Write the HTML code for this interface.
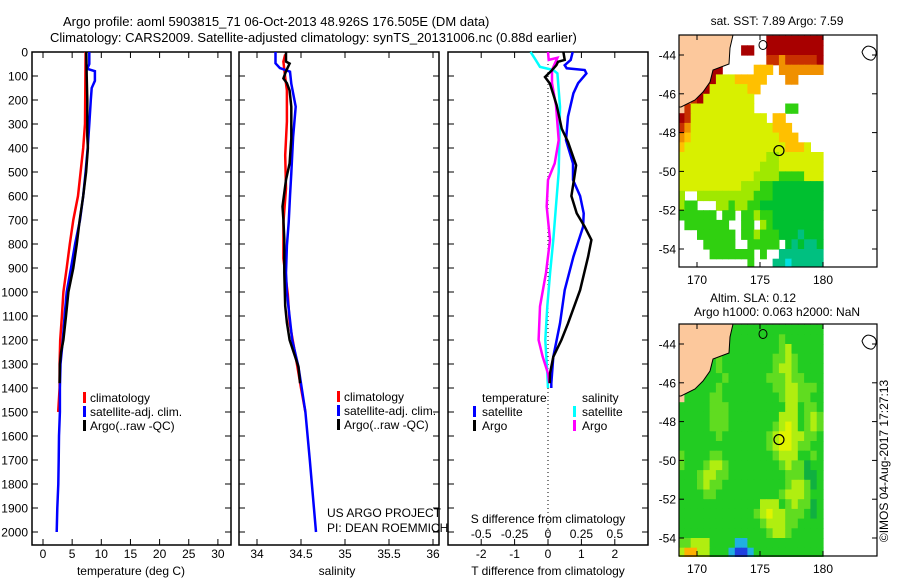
<!DOCTYPE html>
<html><head><meta charset="utf-8">
<style>
html,body{margin:0;padding:0;background:#fff;}
svg{display:block;font-family:"Liberation Sans",Arial,sans-serif;}
text{fill:#000;}
</style></head>
<body>
<svg id="fig" width="900" height="580" viewBox="0 0 900 580">
<defs>
<clipPath id="clipTop"><rect x="679" y="35" width="198" height="232"/></clipPath>
<clipPath id="clipBot"><rect x="679" y="324" width="198" height="233"/></clipPath>
</defs>
<text x="63" y="26" font-size="13">Argo profile: aoml 5903815_71 06-Oct-2013 48.926S 176.505E (DM data)</text>
<text x="50" y="42" font-size="13">Climatology: CARS2009. Satellite-adjusted climatology: synTS_20131006.nc (0.88d earlier)</text>
<g id="p1"></g>
<g id="p2"></g>
<g id="p3"></g>
<g id="m1"></g>
<g id="m2"></g>
<text x="888" y="461" font-size="12" text-anchor="middle" transform="rotate(-90 888 461)">©IMOS 04-Aug-2017 17:27:13</text>
</svg>
<script>
// ---------- data ----------
const depthTicks = [0,100,200,300,400,500,600,700,800,900,1000,1100,1200,1300,1400,1500,1600,1700,1800,1900,2000];
const tempTicks = [0,5,10,15,20,25,30];
const salTicks = [34,34.5,35,35.5,36];
const salTickLabels = ["34","34.5","35","35.5","36"];
const tdiffTicks = [-2,-1,0,1,2];
const sdiffTicks = [-0.5,-0.25,0,0.25,0.5];
const sdiffTickLabels = ["-0.5","-0.25","0","0.25","0.5"];

const climTDepth = [0,300,400,500,600,700,800,900,1000,1100,1200,1300,1400,1500];
const climTVal   = [7.3,7.2,6.9,6.45,6.0,5.2,4.6,4.06,3.5,3.25,2.95,2.85,2.85,2.6];
const satTDepth = [0,50,70,80,120,150,200,300,400,500,600,700,800,900,1000,1100,1200,1300,1400,1500,1600,1700,1800,1900,2000];
const satTVal   = [7.95,7.95,7.6,8.9,8.9,8.35,8.2,7.95,7.66,7.3,6.9,6.35,5.5,4.8,4.06,3.7,3.4,3.0,2.9,2.9,2.75,2.7,2.63,2.45,2.35];
const argoTDepth = [0,100,200,350,400,500,600,700,800,900,1000,1100,1200,1250,1300,1380];
const argoTVal   = [7.43,7.5,7.6,7.6,7.7,7.4,6.9,6.3,5.8,5.2,4.35,3.95,3.5,3.1,2.9,2.85];

const climSDepth = [10,40,106,160,290,430,570,710,860,1010,1128,1270,1400,1500];
const climSVal   = [34.32,34.3,34.32,34.34,34.34,34.32,34.33,34.3,34.3,34.35,34.37,34.44,34.5,34.55];
const satSDepth = [0,47,67,82,132,228,355,505,600,710,807,920,1003,1103,1200,1311,1500,1700,2000];
const satSVal   = [34.21,34.21,34.26,34.375,34.39,34.44,34.41,34.39,34.375,34.36,34.34,34.33,34.34,34.37,34.4,34.47,34.55,34.6,34.67];
const argoSDepth = [0,40,48,80,110,130,160,228,360,464,533,644,700,780,920,1058,1128,1200,1311,1380];
const argoSVal   = [34.33,34.33,34.37,34.33,34.3,34.34,34.37,34.39,34.39,34.37,34.33,34.29,34.3,34.31,34.31,34.32,34.34,34.37,34.47,34.49];

const tSatDiffDepth = [0,33,55,68,75,89,130,172,269,367,464,533,600,672,728,853,992,1131,1270,1381,1400];
const tSatDiffVal   = [0.74,0.68,0.5,0.56,1.1,1.15,0.9,0.76,0.6,0.54,0.75,0.75,0.96,1.07,1.05,0.76,0.5,0.36,0.16,0.1,0.1];
const tArgoDiffDepth = [0,33,41,55,77,104,132,222,319,375,472,528,600,672,728,783,853,992,1131,1200,1270,1339,1380];
const tArgoDiffVal   = [0.46,0.5,0.3,0.25,0.11,-0.09,0.06,0.26,0.41,0.6,0.84,0.78,0.7,0.86,1.1,1.3,1.2,0.96,0.6,0.4,0.16,0.06,0.05];
const sSatDiffDepth = [0,26,62,75,89,228,367,500,640,783,920,1060,1200,1340,1400];
const sSatDiffVal   = [-0.13,-0.1,-0.06,0.04,0.07,0.09,0.085,0.08,0.06,0.04,0.016,-0.005,-0.02,-0.005,0];
const sArgoDiffDepth = [0,33,24,75,130,222,367,464,533,644,783,920,1060,1200,1270,1339,1380];
const sArgoDiffVal   = [0,0.005,0.07,0.03,0.03,0.06,0.08,0.05,0,-0.01,0.015,-0.015,-0.06,-0.07,-0.04,0,0.01];

// SST map grid (0.5 deg cells, lon 168.5..180, lat -43..-55)
const sstRows = [
"LLLLLLLr......RRRRRRRRR",
"LLLLLLrR..RR..RRRRRRRRR",
"LLLLLrR.......rrorrrrrR",
"LLLLrRR.....OOO.ooooooo",
"LLLrRRYYYOOOOO...oo....",
"LLLrRYYYYYYOO..........",
"LLrRYYYYYYYY...........",
"LrYYYYYYYYYY.....GG....",
"RrYYYYYYYYYYYY.OO......",
"roYYYYYYYYYYYYYOOO.....",
"oOYYYYYYYYYYYYYYOOO....",
"OYYYYYYYYYYYYYYYYOOOY..",
"YYYYYYYYYYYYYYggYYYYYYY",
"YYYYYYYYYYYYYgggYYYYYYY",
"YYYYYYYYYYYYggggGGGGYYY",
"YYYYYYYYYYgggGGdddddddd",
"g..gggggggggGGGdddddddd",
"gGG...ggGggGGdddddddddd",
"GGGGGG.GG.GGgGGdddddddd",
".GGGGGGG..GG.gGdddddddd",
"...GGGGGG.GGgGGGdddtddd",
"....GGGGG..GGGGG.dtdttd",
".....GGGGGGG.G..ttttttt",
"...........G...ttcttttt"];
const slaRows = [
"LLLLLLLGGGGGGGGGGGGGGGG",
"LLLLLLGGGGGGGGGGgGGGGGG",
"LLLLLGGGGGGGGGGGgyGGGGG",
"LLLLGGgGGGGGGGGggygGGGG",
"LLLGGGgGGGGGGGGgyygGGGG",
"LLGGGGGgGGGGGGgggyggGGG",
"LGGGGGgGGGGGGGGggyygggG",
"LGGGGggGGGGGGGGGgyyggGG",
"GGGGGgggGGGGGGGGGyyGggG",
"GGGGGgggGGGGGGGGyyyGgyg",
"GGGGGgggGGGGGGGgyYyGgyg",
"GGGGGGgGGGGGGGgyYYyyggG",
"GGGGGGGGGGGGGGgyYYyggGG",
"gGGGGggGGGGGGGGgyyyGGgG",
"gGGGgyygGGGGGGGGgyggdGG",
"GGGgyyggGGGGGGGGGgggddG",
"GGGgyggGGGGGGGGGGgyygdG",
"GGGGggGGGGGGGGGGgyyygGG",
"GGGGGGGGGGGGGyyyGgyggdG",
"GGGGGGGGGGGGgyYyygggGdG",
"GGGGGGGGGGGGGgyyyggGGGG",
"GGGGGGGGGGGGGGgyygGGGGG",
"ggyyyGGGGccGGGGGGGGGGGG",
"yooyyGGGcbbcGGGGGGGGGGG"];
const lonTicks = [170,175,180];
const latTicks = [-44,-46,-48,-50,-52,-54];
const argoLon = 176.505, argoLat = -48.926;

// ---------- helpers ----------
const NS = "http://www.w3.org/2000/svg";
function mk(tag, attrs, parent){ const e=document.createElementNS(NS,tag); for(const k in attrs) e.setAttribute(k,attrs[k]); parent.appendChild(e); return e; }
const yD = d => 52 + d*0.24;
const xT = t => 43 + t*5.83;
const xS = s => 257 + (s-34)*88;
const xTd = t => 548 + t*33.4;
const xSd = s => 548 + s*133.6;

function frame(g, x, y, w, h, name){
  const r = mk('rect',{x:x,y:y,width:w,height:h,fill:'none',stroke:'#000','stroke-width':1.5},g);
  
  
}
function depthTickMarks(g, x0, x1, labels){
  depthTicks.forEach(d=>{
    const y=yD(d);
    const t1=mk('line',{x1:x0,y1:y,x2:x0+6,y2:y,stroke:'#000'},g);
    
    
    const t2=mk('line',{x1:x1-6,y1:y,x2:x1,y2:y,stroke:'#000'},g);
    
    
    if(labels){
      const tx=mk('text',{x:28,y:y+4.5,'font-size':12,'text-anchor':'end'},g);
      tx.textContent=d;
      
      
    }
  });
}
function xTicks(g, vals, fx, labs, yTop, yBot, labY, name){
  vals.forEach((v,i)=>{
    const x=fx(v);
    const a=mk('line',{x1:x,y1:yTop,x2:x,y2:yTop+6,stroke:'#000'},g);
    
    
    const b=mk('line',{x1:x,y1:yBot-6,x2:x,y2:yBot,stroke:'#000'},g);
    
    
    if(labs){
      const t=mk('text',{x:x,y:labY,'font-size':12,'text-anchor':'middle'},g);
      t.textContent=labs[i];
      
      
    }
  });
}
function profile(g, depths, vals, fx, color, name, w){
  const pts = depths.map((d,i)=> fx(vals[i]).toFixed(1)+','+yD(d).toFixed(1)).join(' ');
  const p = mk('polyline',{points:pts,fill:'none',stroke:color,'stroke-width':w||2.5,'stroke-linejoin':'miter'},g);
  
  
}
function text(g, x, y, s, name, anchor, size){
  const t=mk('text',{x:x,y:y,'font-size':size||12,'text-anchor':anchor||'start'},g);
  t.textContent=s;
  
  
}
function legBar(g, x, y, color, name){
  const r=mk('rect',{x:x,y:y-10,width:3,height:11,fill:color},g);
  
  
}

// ---------- panel 1 ----------
const p1=document.getElementById('p1');
frame(p1,32,52,199,493,'temperature-frame');
depthTickMarks(p1,32,231,true);
xTicks(p1,tempTicks,xT,tempTicks.map(String),52,545,558,'temperature');
profile(p1,climTDepth,climTVal,xT,'#ff0000','climatology-temperature-line');
profile(p1,satTDepth,satTVal,xT,'#0000ff','satellite-temperature-line');
profile(p1,argoTDepth,argoTVal,xT,'#000000','argo-temperature-line');
legBar(p1,83,402,'#ff0000','legend-climatology-swatch');
legBar(p1,83,416,'#0000ff','legend-satellite-swatch');
legBar(p1,83,430,'#000000','legend-argo-swatch');
text(p1,90,402,'climatology','legend-climatology-label');
text(p1,90,416,'satellite-adj. clim.','legend-satellite-label');
text(p1,90,430,'Argo(..raw -QC)','legend-argo-label');
text(p1,131,575,'temperature (deg C)','temperature-axis-title','middle');

// ---------- panel 2 ----------
const p2=document.getElementById('p2');
frame(p2,239,52,200,493,'salinity-frame');
depthTickMarks(p2,239,439,false);
xTicks(p2,salTicks,xS,salTickLabels,52,545,558,'salinity');
profile(p2,climSDepth,climSVal,xS,'#ff0000','climatology-salinity-line');
profile(p2,satSDepth,satSVal,xS,'#0000ff','satellite-salinity-line');
profile(p2,argoSDepth,argoSVal,xS,'#000000','argo-salinity-line');
legBar(p2,337,401,'#ff0000','legend-climatology-swatch');
legBar(p2,337,415,'#0000ff','legend-satellite-swatch');
legBar(p2,337,429,'#000000','legend-argo-swatch');
text(p2,344,401,'climatology','legend-climatology-label');
text(p2,344,415,'satellite-adj. clim.','legend-satellite-label');
text(p2,344,429,'Argo(..raw -QC)','legend-argo-label');
text(p2,327,517,'US ARGO PROJECT','credit-project');
text(p2,327,532,'PI: DEAN ROEMMICH','credit-pi');
text(p2,337,575,'salinity','salinity-axis-title','middle');

// ---------- panel 3 ----------
const p3=document.getElementById('p3');
frame(p3,448,52,200,493,'difference-frame');
depthTickMarks(p3,448,648,false);
xTicks(p3,tdiffTicks,xTd,tdiffTicks.map(String),52,545,558,'t-difference');
const zl=mk('line',{x1:548,y1:52,x2:548,y2:545,stroke:'#000','stroke-dasharray':'1,3'},p3);


profile(p3,sSatDiffDepth,sSatDiffVal,xSd,'#00ffff','salinity-satellite-diff-line');
profile(p3,sArgoDiffDepth,sArgoDiffVal,xSd,'#ff00ff','salinity-argo-diff-line');
profile(p3,tSatDiffDepth,tSatDiffVal,xTd,'#0000ff','temperature-satellite-diff-line');
profile(p3,tArgoDiffDepth,tArgoDiffVal,xTd,'#000000','temperature-argo-diff-line');
text(p3,482,402,'temperature','legend-temperature-heading');
text(p3,582,402,'salinity','legend-salinity-heading');
legBar(p3,473,416,'#0000ff','legend-t-satellite-swatch');
legBar(p3,473,430,'#000000','legend-t-argo-swatch');
legBar(p3,573,416,'#00ffff','legend-s-satellite-swatch');
legBar(p3,573,430,'#ff00ff','legend-s-argo-swatch');
text(p3,482,416,'satellite','legend-t-satellite-label');
text(p3,482,430,'Argo','legend-t-argo-label');
text(p3,582,416,'satellite','legend-s-satellite-label');
text(p3,582,430,'Argo','legend-s-argo-label');
text(p3,548,523,'S difference from climatology','s-difference-axis-title','middle');
sdiffTicks.forEach((v,i)=>{ text(p3,xSd(v),538,sdiffTickLabels[i],'s-difference-tick-label','middle'); });
text(p3,548,575,'T difference from climatology','t-difference-axis-title','middle');

// ---------- maps ----------
const sstColors = {R:'#a80000',r:'#c83000',o:'#f09000',O:'#ffc000',Y:'#d8f000',g:'#a0e800',G:'#30d010',d:'#00c030',t:'#00c080',c:'#00e0e0',L:'#fcc89c'};
const slaColors = {G:'#22cc22',g:'#60dc20',y:'#b0ee10',Y:'#e0f400',d:'#10b040',o:'#ffb000',c:'#20b0e0',b:'#2040e0',L:'#fcc89c'};
function drawMap(gid, rows, colors, y0, clip, title1, title2){
  const g=document.getElementById(gid);
  const lonX = lon => 697 + (lon-170)*12.6;
  const latY = lat => y0 + 20 + (-44-lat)*19.4;
  const cg=mk('g',{'clip-path':'url(#'+clip+')'},g);
  rows.forEach((row,j)=>{
    for(let i=0;i<row.length;i++){
      const ch=row[i]; if(ch==='.') continue;
      const lon=168.5+0.5*i, lat=-43-0.5*j;
      const x=lonX(lon), y=latY(lat);
      const c=mk('rect',{x:x.toFixed(2),y:y.toFixed(2),width:6.9,height:10.3,fill:colors[ch]},cg);
      
      
    }
  });
  const dy=y0-35;
  const land=mk('polygon',{points:[[679,35],[733,35],[730,48],[729,64],[713,70],[710,82],[703,92],[695,100],[681,107],[679,107]].map(p=>p[0]+','+(p[1]+dy)).join(' '),fill:'#fcc89c',stroke:'#000','stroke-width':1},cg);
  
  
  const isl=mk('ellipse',{cx:763,cy:45+dy,rx:4,ry:4.5,fill:'none',stroke:'#000'},cg);
  
  
  const ch=mk('path',{d:'M862 '+(52+dy)+' q3 -8 10 -5 q5 2 4 8 q-2 6 -6 5 q-6 -1 -8 -8z',fill:'none',stroke:'#000'},g);
  
  
  const mk1=mk('circle',{cx:lonX(argoLon),cy:latY(argoLat),r:5,fill:'none',stroke:'#000','stroke-width':1.2},g);
  
  
  const fr=mk('rect',{x:679,y:y0,width:198,height:232,fill:'none',stroke:'#000','stroke-width':1.2},g);
  
  
  lonTicks.forEach(lon=>{
    const x=lonX(lon);
    const a=mk('line',{x1:x,y1:y0,x2:x,y2:y0+5,stroke:'#000'},g);
    
    
    const b=mk('line',{x1:x,y1:y0+227,x2:x,y2:y0+232,stroke:'#000'},g);
    
    
    text(g,x,y0+249,String(lon),'lon-tick-label','middle');
  });
  latTicks.forEach(lat=>{
    const y=latY(lat);
    const a=mk('line',{x1:679,y1:y,x2:684,y2:y,stroke:'#000'},g);
    
    
    const b=mk('line',{x1:872,y1:y,x2:877,y2:y,stroke:'#000'},g);
    
    
    text(g,676,y+4.5,String(lat),'lat-tick-label','end');
  });
  if(title2){
    text(g,753,y0-22,title1,'map-title','middle');
    text(g,777,y0-8,title2,'map-subtitle','middle');
  } else {
    text(g,777,y0-10,title1,'map-title','middle');
  }
}
drawMap('m1',sstRows,sstColors,35,'clipTop','sat. SST: 7.89 Argo: 7.59');
drawMap('m2',slaRows,slaColors,324,'clipBot','Altim. SLA: 0.12','Argo h1000: 0.063 h2000: NaN');
</script>
</body></html>
